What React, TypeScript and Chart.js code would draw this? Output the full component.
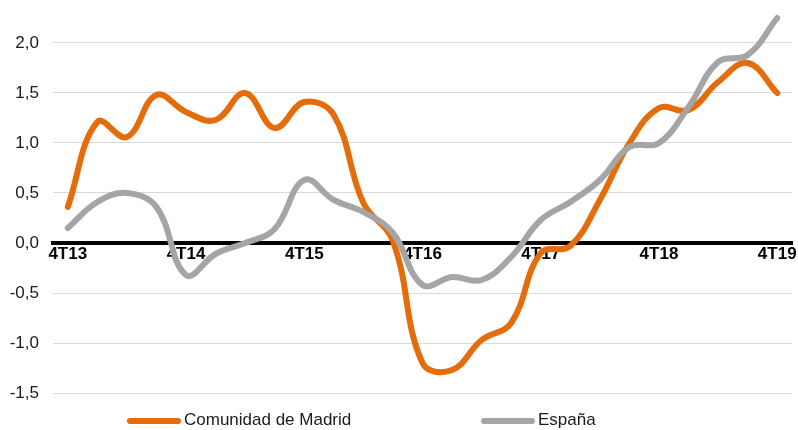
import React, { useEffect, useRef } from "react";
import { Chart, registerables } from "chart.js";

Chart.register(...registerables);

const quarters = [
  "4T13", "1T14", "2T14", "3T14", "4T14", "1T15", "2T15", "3T15", "4T15",
  "1T16", "2T16", "3T16", "4T16", "1T17", "2T17", "3T17", "4T17",
  "1T18", "2T18", "3T18", "4T18", "1T19", "2T19", "3T19", "4T19",
];

const madrid = [
  0.36, 1.21, 1.06, 1.48, 1.31, 1.23, 1.5, 1.15, 1.41,
  1.28, 0.4, 0.02, -1.2, -1.27, -0.97, -0.8, -0.1,
  -0.03, 0.43, 1.0, 1.35, 1.33, 1.61, 1.8, 1.5,
];

const espana = [
  0.15, 0.41, 0.5, 0.36, -0.32, -0.11, 0.0, 0.14, 0.63,
  0.43, 0.31, 0.1, -0.42, -0.34, -0.37, -0.14, 0.23,
  0.41, 0.63, 0.96, 1.0, 1.36, 1.81, 1.88, 2.25,
];

const yTickValues = [-1.5, -1, -0.5, 0, 0.5, 1, 1.5, 2];

const seriesNames = ["Comunidad de Madrid", "España"];
const seriesColors = ["#E46C0A", "#A5A5A5"];

const FONT = "'Liberation Sans', Arial, sans-serif";

export default function App() {
  const ref = useRef<HTMLCanvasElement>(null);

  useEffect(() => {
    if (!ref.current) return;
    const chart = new Chart(ref.current, {
      type: "line",
      data: {
        labels: quarters,
        datasets: [
          {
            label: seriesNames[0],
            data: madrid,
            borderColor: seriesColors[0],
            backgroundColor: seriesColors[0],
            borderWidth: 6,
            pointRadius: 0,
            tension: 0.4,
            borderCapStyle: "round",
            borderJoinStyle: "round",
            fill: false,
            order: 1,
          },
          {
            label: seriesNames[1],
            data: espana,
            borderColor: seriesColors[1],
            backgroundColor: seriesColors[1],
            borderWidth: 6,
            pointRadius: 0,
            tension: 0.4,
            borderCapStyle: "round",
            borderJoinStyle: "round",
            fill: false,
            order: 0,
          },
        ],
      },
      options: {
        responsive: false,
        animation: false,
        layout: { padding: { left: 0, right: 6, top: 3, bottom: 37 } },
        plugins: {
          legend: { display: false },
          tooltip: { enabled: false },
        },
        scales: {
          x: {
            type: "category",
            position: { y: 0 } as any,
            offset: true,
            afterFit: (s: any) => {
              s.height = 0;
            },
            grid: { display: false, drawTicks: false },
            border: { display: true, color: "#000", width: 4 },
            ticks: {
              autoSkip: false,
              maxRotation: 0,
              minRotation: 0,
              padding: 1,
              color: "#000",
              font: { family: FONT, size: 17, weight: "bold" },
              callback: (_v: any, i: number) =>
                quarters[i].startsWith("4T") ? quarters[i] : "",
            },
          },
          y: {
            min: -1.5,
            max: 2.4,
            afterBuildTicks: (s: any) => {
              s.ticks = yTickValues.map((v) => ({ value: v }));
            },
            afterFit: (s: any) => {
              s.width = 53;
              s.paddingTop = 0;
              s.paddingBottom = 0;
            },
            grid: { color: "#D9D9D9", lineWidth: 1, drawTicks: false },
            border: { display: false },
            ticks: {
              padding: 14,
              color: "#1a1a1a",
              font: { family: FONT, size: 17 },
              callback: (v: any) => Number(v).toFixed(1).replace(".", ","),
            },
          },
        },
      },
    });
    return () => chart.destroy();
  }, []);

  const legendItems = [
    { name: seriesNames[0], color: seriesColors[0], lineLeft: 127, lineWidth: 54, textLeft: 184 },
    { name: seriesNames[1], color: seriesColors[1], lineLeft: 481, lineWidth: 54, textLeft: 538 },
  ];

  return (
    <div style={{ position: "absolute", left: 0, top: 0, width: 798, height: 430, background: "#fff" }}>
      <canvas ref={ref} width={798} height={430} style={{ display: "block", width: 798, height: 430 }} />
      {legendItems.map((it) => (
        <React.Fragment key={it.name}>
          <div
            style={{
              position: "absolute",
              left: it.lineLeft,
              top: 418,
              width: it.lineWidth,
              height: 6,
              borderRadius: 3,
              background: it.color,
            }}
          />
          <div
            style={{
              position: "absolute",
              left: it.textLeft,
              top: 410,
              fontFamily: FONT,
              fontSize: 17,
              lineHeight: "20px",
              color: "#1a1a1a",
              whiteSpace: "nowrap",
            }}
          >
            {it.name}
          </div>
        </React.Fragment>
      ))}
    </div>
  );
}
